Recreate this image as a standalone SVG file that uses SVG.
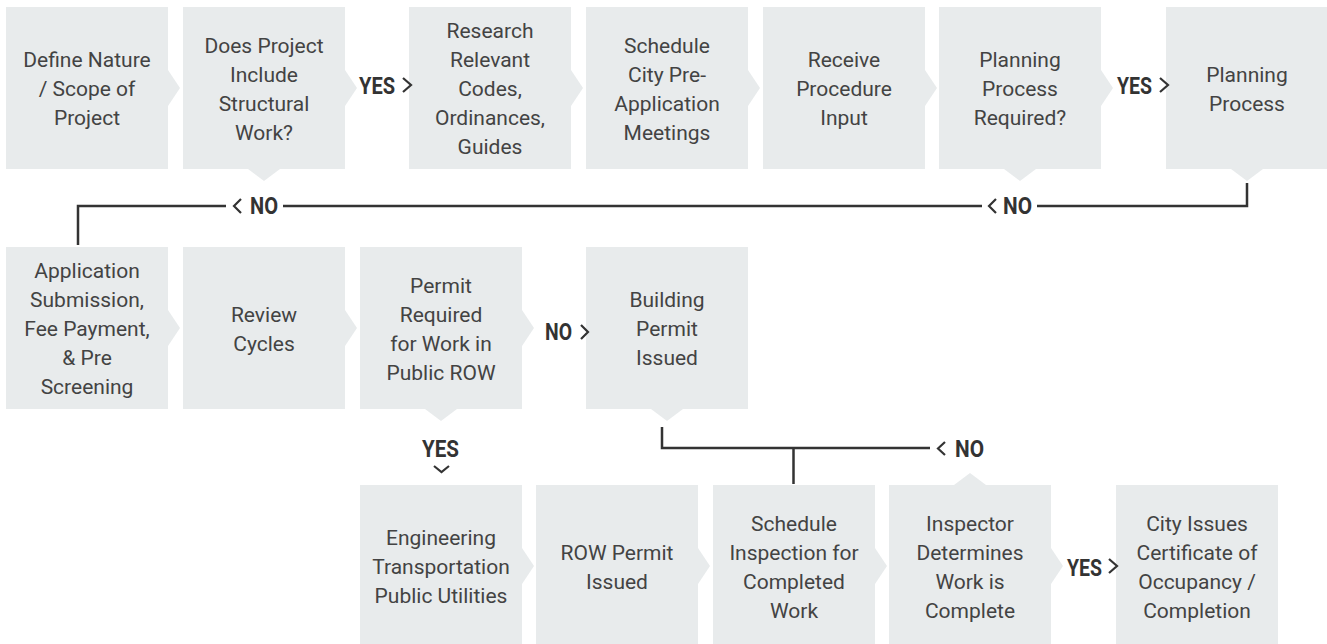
<svg xmlns="http://www.w3.org/2000/svg" width="1327" height="644" viewBox="0 0 1327 644">
<style>
.box{fill:#e8ebec}
.t{font-family:Roboto,"Liberation Sans",sans-serif;font-size:21px;fill:#434343;text-anchor:middle}
.lbl{font-family:Roboto,"Liberation Sans",sans-serif;font-size:24px;font-weight:bold;fill:#333}
.ln{fill:none;stroke:#333;stroke-width:2.5}
.chev{fill:none;stroke:#333;stroke-width:2.2}
</style>
<rect width="1327" height="644" fill="#fff"/>
<g id="n1"><rect class="box" x="6" y="7" width="162" height="162"/><polygon class="box" points="168,70 180,88 168,106"/>
<text class="t" x="87"><tspan y="67">Define Nature</tspan><tspan x="87" y="96">/ Scope of</tspan><tspan x="87" y="125">Project</tspan></text></g>
<g id="n2"><rect class="box" x="183" y="7" width="162" height="162"/><polygon class="box" points="345,70 357,88 345,106"/><polygon class="box" points="248,169 264,181 280,169"/>
<text class="t" x="264"><tspan y="52.5">Does Project</tspan><tspan x="264" y="81.5">Include</tspan><tspan x="264" y="110.5">Structural</tspan><tspan x="264" y="139.5">Work?</tspan></text></g>
<g id="n3"><rect class="box" x="409" y="7" width="162" height="162"/><polygon class="box" points="571,70 583,88 571,106"/>
<text class="t" x="490"><tspan y="38">Research</tspan><tspan x="490" y="67">Relevant</tspan><tspan x="490" y="96">Codes,</tspan><tspan x="490" y="125">Ordinances,</tspan><tspan x="490" y="154">Guides</tspan></text></g>
<g id="n4"><rect class="box" x="586" y="7" width="162" height="162"/><polygon class="box" points="748,70 760,88 748,106"/>
<text class="t" x="667"><tspan y="52.5">Schedule</tspan><tspan x="667" y="81.5">City Pre-</tspan><tspan x="667" y="110.5">Application</tspan><tspan x="667" y="139.5">Meetings</tspan></text></g>
<g id="n5"><rect class="box" x="763" y="7" width="162" height="162"/><polygon class="box" points="925,70 937,88 925,106"/>
<text class="t" x="844"><tspan y="67">Receive</tspan><tspan x="844" y="96">Procedure</tspan><tspan x="844" y="125">Input</tspan></text></g>
<g id="n6"><rect class="box" x="939" y="7" width="162" height="162"/><polygon class="box" points="1101,70 1113,88 1101,106"/><polygon class="box" points="1004,169 1020,181 1036,169"/>
<text class="t" x="1020"><tspan y="67">Planning</tspan><tspan x="1020" y="96">Process</tspan><tspan x="1020" y="125">Required?</tspan></text></g>
<g id="n7"><rect class="box" x="1166" y="7" width="162" height="162"/><polygon class="box" points="1231,169 1247,181 1263,169"/>
<text class="t" x="1247"><tspan y="81.5">Planning</tspan><tspan x="1247" y="110.5">Process</tspan></text></g>

<g id="n8"><rect class="box" x="6" y="247" width="162" height="162"/><polygon class="box" points="168,310 180,328 168,346"/>
<text class="t" x="87"><tspan y="278">Application</tspan><tspan x="87" y="307">Submission,</tspan><tspan x="87" y="336">Fee Payment,</tspan><tspan x="87" y="365">&amp; Pre</tspan><tspan x="87" y="394">Screening</tspan></text></g>
<g id="n9"><rect class="box" x="183" y="247" width="162" height="162"/><polygon class="box" points="345,310 357,328 345,346"/>
<text class="t" x="264"><tspan y="321.5">Review</tspan><tspan x="264" y="350.5">Cycles</tspan></text></g>
<g id="n10"><rect class="box" x="360" y="247" width="162" height="162"/><polygon class="box" points="522,310 534,328 522,346"/><polygon class="box" points="425,409 441,421 457,409"/>
<text class="t" x="441"><tspan y="292.5">Permit</tspan><tspan x="441" y="321.5">Required</tspan><tspan x="441" y="350.5">for Work in</tspan><tspan x="441" y="379.5">Public ROW</tspan></text></g>
<g id="n11"><rect class="box" x="586" y="247" width="162" height="162"/><polygon class="box" points="651,409 667,421 683,409"/>
<text class="t" x="667"><tspan y="307">Building</tspan><tspan x="667" y="336">Permit</tspan><tspan x="667" y="365">Issued</tspan></text></g>

<g id="n12"><rect class="box" x="360" y="485" width="162" height="162"/><polygon class="box" points="522,548 534,566 522,584"/>
<text class="t" x="441"><tspan y="545">Engineering</tspan><tspan x="441" y="574">Transportation</tspan><tspan x="441" y="603">Public Utilities</tspan></text></g>
<g id="n13"><rect class="box" x="536" y="485" width="162" height="162"/><polygon class="box" points="698,548 710,566 698,584"/>
<text class="t" x="617"><tspan y="559.5">ROW Permit</tspan><tspan x="617" y="588.5">Issued</tspan></text></g>
<g id="n14"><rect class="box" x="713" y="485" width="162" height="162"/><polygon class="box" points="875,548 887,566 875,584"/>
<text class="t" x="794"><tspan y="530.5">Schedule</tspan><tspan x="794" y="559.5">Inspection for</tspan><tspan x="794" y="588.5">Completed</tspan><tspan x="794" y="617.5">Work</tspan></text></g>
<g id="n15"><rect class="box" x="889" y="485" width="162" height="162"/><polygon class="box" points="1051,548 1063,566 1051,584"/><polygon class="box" points="954,485 970,473 986,485"/>
<text class="t" x="970"><tspan y="530.5">Inspector</tspan><tspan x="970" y="559.5">Determines</tspan><tspan x="970" y="588.5">Work is</tspan><tspan x="970" y="617.5">Complete</tspan></text></g>
<g id="n16"><rect class="box" x="1116" y="485" width="162" height="162"/>
<text class="t" x="1197"><tspan y="530.5">City Issues</tspan><tspan x="1197" y="559.5">Certificate of</tspan><tspan x="1197" y="588.5">Occupancy /</tspan><tspan x="1197" y="617.5">Completion</tspan></text></g>

<g id="connectors">
<path class="ln" d="M1247,183 V206 H1037 M982,206 H283 M226,206 H78 V245"/>
<path class="ln" d="M662,427 V448 H930 M793.5,448 V484"/>
<text class="lbl" x="359" y="94" textLength="36" lengthAdjust="spacingAndGlyphs">YES</text>
<polyline class="chev" points="403,78 411,85 403,92"/>
<text class="lbl" x="1117" y="94" textLength="35" lengthAdjust="spacingAndGlyphs">YES</text>
<polyline class="chev" points="1160,78 1168,85 1160,92"/>
<text class="lbl" x="250" y="214" textLength="28" lengthAdjust="spacingAndGlyphs">NO</text>
<polyline class="chev" points="241,199 234,206 241,213"/>
<text class="lbl" x="1003" y="214" textLength="29" lengthAdjust="spacingAndGlyphs">NO</text>
<polyline class="chev" points="996,199 989,206 996,213"/>
<text class="lbl" x="545" y="340" textLength="27" lengthAdjust="spacingAndGlyphs">NO</text>
<polyline class="chev" points="581,325 588,332 581,339"/>
<text class="lbl" x="422" y="457" textLength="37" lengthAdjust="spacingAndGlyphs">YES</text>
<polyline class="chev" points="434,466 441.5,472 449,466"/>
<text class="lbl" x="955" y="457" textLength="29" lengthAdjust="spacingAndGlyphs">NO</text>
<polyline class="chev" points="945,442 938,448.5 945,455"/>
<text class="lbl" x="1067" y="576" textLength="35" lengthAdjust="spacingAndGlyphs">YES</text>
<polyline class="chev" points="1109,559 1117,566 1109,573"/>
</g>
</svg>
